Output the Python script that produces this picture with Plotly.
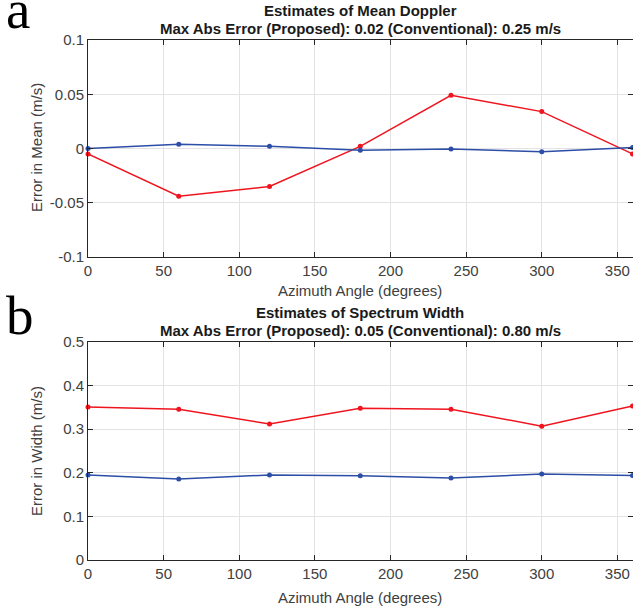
import plotly.graph_objects as go

azimuth = [0, 60, 120, 180, 240, 300, 360]
mean_conventional = [-0.005, -0.044, -0.035, 0.002, 0.049, 0.034, -0.005]
mean_proposed = [0.0, 0.004, 0.002, -0.0015, -0.0005, -0.003, 0.001]
width_conventional = [0.351, 0.346, 0.312, 0.348, 0.346, 0.307, 0.353]
width_proposed = [0.195, 0.186, 0.195, 0.193, 0.188, 0.197, 0.194]

x_ticks = [0, 50, 100, 150, 200, 250, 300, 350]
mean_ticks = [-0.1, -0.05, 0, 0.05, 0.1]
mean_ticktext = ["-0.1", "-0.05", "0", "0.05", "0.1"]
width_ticks = [0, 0.1, 0.2, 0.3, 0.4, 0.5]
width_ticktext = ["0", "0.1", "0.2", "0.3", "0.4", "0.5"]

RED = "#f0141e"
BLUE = "#2c4ea6"
AX = "#262626"
TXT = "#404040"
GRID = "#e3e3e3"
FONT = "Liberation Sans, Arial, Helvetica, sans-serif"

W, H = 633, 610

def px(x):
    return x / W

def py(y):
    return 1 - y / H

fig = go.Figure()

def add(x, y, color, xa, ya):
    fig.add_trace(go.Scatter(x=x, y=y, mode="lines+markers", xaxis=xa, yaxis=ya,
                             line=dict(color=color, width=1.5),
                             marker=dict(color=color, size=5), showlegend=False,
                             cliponaxis=False))

add(azimuth, mean_conventional, RED, "x", "y")
add(azimuth, mean_proposed, BLUE, "x", "y")
add(azimuth, width_conventional, RED, "x2", "y2")
add(azimuth, width_proposed, BLUE, "x2", "y2")

xdom = [px(88), px(632.5)]
top_dom = [py(257), py(40)]
bot_dom = [py(560), py(342)]

xcommon = dict(range=[0, 360], tickvals=x_ticks, ticks="inside", ticklen=5, tickcolor=AX,
               showline=True, linecolor=AX, linewidth=1, mirror="ticks",
               showgrid=True, gridcolor=GRID, gridwidth=1, zeroline=False, automargin=False,
               tickfont=dict(family=FONT, size=15, color=TXT), domain=xdom)
ycommon = dict(ticks="inside", ticklen=5, tickcolor=AX,
               showline=True, linecolor=AX, linewidth=1, mirror="ticks",
               showgrid=True, gridcolor=GRID, gridwidth=1, zeroline=False, automargin=False,
               tickfont=dict(family=FONT, size=15, color=TXT))

fig.update_layout(
    width=W, height=H, margin=dict(l=0, r=0, t=0, b=0, autoexpand=False),
    paper_bgcolor="white", plot_bgcolor="white",
    xaxis=dict(xcommon, anchor="y"),
    yaxis=dict(ycommon, range=[-0.1, 0.1], tickvals=mean_ticks, ticktext=mean_ticktext,
               domain=top_dom, anchor="x"),
    xaxis2=dict(xcommon, anchor="y2"),
    yaxis2=dict(ycommon, range=[0, 0.5], tickvals=width_ticks, ticktext=width_ticktext,
                domain=bot_dom, anchor="x2"),
)

cx = px((88 + 632.5) / 2)

def ann(text, x, y, size, color=TXT, bold=False, angle=0, family=FONT, xanchor="center"):
    if bold:
        text = "<b>" + text + "</b>"
    fig.add_annotation(text=text, x=x, y=py(y), xref="paper", yref="paper",
                       showarrow=False, xanchor=xanchor, yanchor="middle", textangle=angle,
                       font=dict(family=family, size=size, color=color))

ann("Estimates of Mean Doppler", cx, 11, 15, color="#1a1a1a", bold=True)
ann("Max Abs Error (Proposed): 0.02 (Conventional): 0.25 m/s", cx, 29, 15, color="#1a1a1a", bold=True)
ann("Azimuth Angle (degrees)", cx, 290, 15)
ann("Error in Mean (m/s)", px(36), 148, 15, angle=-90)

ann("Estimates of Spectrum Width", cx, 312, 15, color="#1a1a1a", bold=True)
ann("Max Abs Error (Proposed): 0.05 (Conventional): 0.80 m/s", cx, 330, 15, color="#1a1a1a", bold=True)
ann("Azimuth Angle (degrees)", cx, 597, 15)
ann("Error in Width (m/s)", px(36), 451, 15, angle=-90)

SERIF = "Liberation Serif, DejaVu Serif, serif"
ann("a", px(4), 9, 55, color="black", family=SERIF, xanchor="left")
ann("b", px(4), 315, 55, color="black", family=SERIF, xanchor="left")

fig.write_html("out.html", config={"displayModeBar": False},
               post_script="document.body.style.margin='0';document.body.style.overflow='hidden';")
